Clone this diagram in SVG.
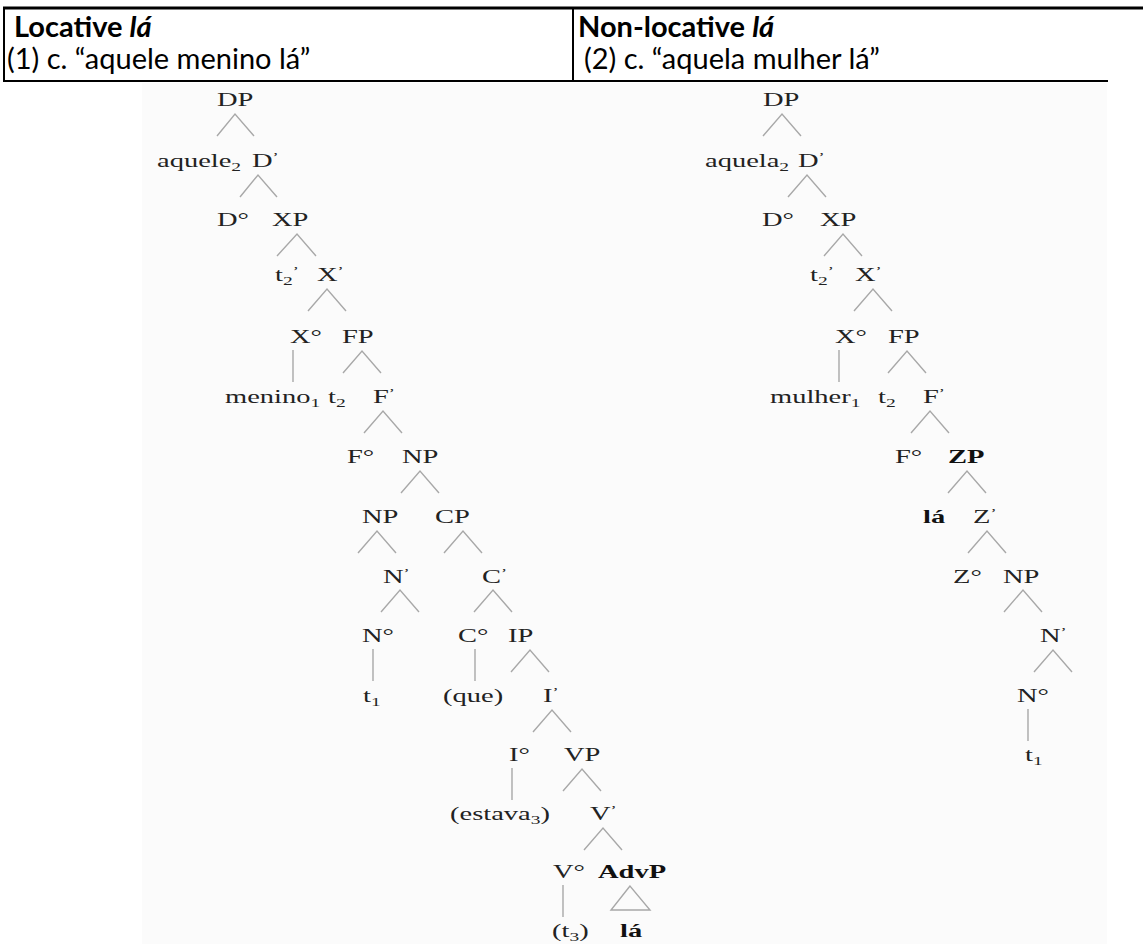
<svg xmlns="http://www.w3.org/2000/svg" width="1143" height="944" viewBox="0 0 1143 944">
<style>
.hd{font-family:Lato,"Open Sans",sans-serif;font-size:29px;fill:#000}
.b{font-weight:bold}
.t{font-family:"Liberation Serif","Times New Roman",serif;font-size:19px;fill:#222}
.sb{font-size:13px}
.pr{font-size:12px}
.bd{font-weight:bold;fill:#111}
.ln{stroke:#a8a8a8;stroke-width:1.4;fill:none}
.tb{stroke:#000;fill:none}
</style>
<rect width="1143" height="944" fill="#fff"/>
<g id="table">
<line class="tb" x1="3" y1="8" x2="1143" y2="8" stroke-width="3"/>
<line class="tb" x1="4" y1="8" x2="4" y2="82" stroke-width="2"/>
<line class="tb" x1="573" y1="8" x2="573" y2="82" stroke-width="2"/>
<line class="tb" x1="3" y1="81" x2="1108" y2="81" stroke-width="2"/>
<text class="hd b" x="14" y="37">Locative <tspan font-style="italic">lá</tspan></text>
<text class="hd" x="7" y="69">(1) c. “aquele menino lá”</text>
<text class="hd b" x="578" y="37">Non-locative <tspan font-style="italic">lá</tspan></text>
<text class="hd" x="584" y="69">(2) c. “aquela mulher lá”</text>
</g>
<rect x="142" y="83" width="965" height="861" fill="#fbfbfb"/>
<g id="connectors">
<path class="ln" d="M217,136 L235,114 L254,136 M240,197 L258,175 L277,197 M277,256 L297,234 L316,256 M308,311 L327,289 L346,311 M343,373 L362,351 L381,373 M364,433 L383,411 L402,433 M401,493 L420,471 L439,493 M358,553 L377,531 L396,553 M444,553 L463,531 L482,553 M381,612 L400,590 L419,612 M474,612 L493,590 L512,612 M511,672 L530,650 L549,672 M533,732 L552,710 L571,732 M563,791 L582,769 L601,791 M584,850 L603,828 L622,850"/>
<path class="ln" d="M293,350 V382 M373,649 V681 M475,649 V681 M512,768 V800 M563,885 V917"/>
<path class="ln" d="M630,886 L611,910 L650,910 Z"/>
<path class="ln" d="M763,136 L782,114 L801,136 M788,197 L807,175 L826,197 M824,256 L843,234 L862,256 M854,311 L873,289 L892,311 M888,373 L907,351 L926,373 M911,433 L930,411 L949,433 M948,493 L967,471 L986,493 M968,553 L987,531 L1006,553 M1004,612 L1023,590 L1042,612 M1034,672 L1053,650 L1072,672"/>
<path class="ln" d="M839,350 V382 M1028,709 V741"/>
</g>
<g id="tree-left">
<g id="l-DP"><text class="t" transform="translate(217,106) scale(1.5,1)">DP</text></g>
<g id="l-aquele"><text class="t" transform="translate(157,167) scale(1.5,1)">aquele<tspan class="sb" dy="4">2</tspan></text></g>
<g id="l-Dbar"><text class="t" transform="translate(252,167) scale(1.5,1)">D<tspan class="pr" dy="-6">’</tspan></text></g>
<g id="l-D0"><text class="t" transform="translate(217,226) scale(1.5,1)">D°</text></g>
<g id="l-XP"><text class="t" transform="translate(272,226) scale(1.5,1)">XP</text></g>
<g id="l-t2p"><text class="t" transform="translate(275,281) scale(1.5,1)">t<tspan class="sb" dy="4">2</tspan><tspan class="pr" dy="-10">’</tspan></text></g>
<g id="l-Xbar"><text class="t" transform="translate(317,281) scale(1.5,1)">X<tspan class="pr" dy="-6">’</tspan></text></g>
<g id="l-X0"><text class="t" transform="translate(290,343) scale(1.5,1)">X°</text></g>
<g id="l-FP"><text class="t" transform="translate(342,343) scale(1.5,1)">FP</text></g>
<g id="l-menino"><text class="t" transform="translate(225,403) scale(1.5,1)">menino<tspan class="sb" dy="4">1</tspan></text></g>
<g id="l-t2"><text class="t" transform="translate(328,403) scale(1.5,1)">t<tspan class="sb" dy="4">2</tspan></text></g>
<g id="l-Fbar"><text class="t" transform="translate(373,403) scale(1.5,1)">F<tspan class="pr" dy="-6">’</tspan></text></g>
<g id="l-F0"><text class="t" transform="translate(347,463) scale(1.5,1)">F°</text></g>
<g id="l-NP1"><text class="t" transform="translate(402,463) scale(1.5,1)">NP</text></g>
<g id="l-NP2"><text class="t" transform="translate(362,523) scale(1.5,1)">NP</text></g>
<g id="l-CP"><text class="t" transform="translate(435,523) scale(1.5,1)">CP</text></g>
<g id="l-Nbar"><text class="t" transform="translate(383,583) scale(1.5,1)">N<tspan class="pr" dy="-6">’</tspan></text></g>
<g id="l-Cbar"><text class="t" transform="translate(482,583) scale(1.5,1)">C<tspan class="pr" dy="-6">’</tspan></text></g>
<g id="l-N0"><text class="t" transform="translate(362,642) scale(1.5,1)">N°</text></g>
<g id="l-C0"><text class="t" transform="translate(458,642) scale(1.5,1)">C°</text></g>
<g id="l-IP"><text class="t" transform="translate(508,642) scale(1.5,1)">IP</text></g>
<g id="l-t1"><text class="t" transform="translate(363,702) scale(1.5,1)">t<tspan class="sb" dy="4">1</tspan></text></g>
<g id="l-que"><text class="t" transform="translate(443,702) scale(1.5,1)">(que)</text></g>
<g id="l-Ibar"><text class="t" transform="translate(543,702) scale(1.5,1)">I<tspan class="pr" dy="-6">’</tspan></text></g>
<g id="l-I0"><text class="t" transform="translate(509,761) scale(1.5,1)">I°</text></g>
<g id="l-VP"><text class="t" transform="translate(564,761) scale(1.5,1)">VP</text></g>
<g id="l-estava"><text class="t" transform="translate(450,820) scale(1.5,1)">(estava<tspan class="sb" dy="4">3</tspan><tspan dy="-4">)</tspan></text></g>
<g id="l-Vbar"><text class="t" transform="translate(590,820) scale(1.5,1)">V<tspan class="pr" dy="-6">’</tspan></text></g>
<g id="l-V0"><text class="t" transform="translate(553,878) scale(1.5,1)">V°</text></g>
<g id="l-AdvP"><text class="t bd" transform="translate(598,878) scale(1.5,1)">AdvP</text></g>
<g id="l-t3"><text class="t" transform="translate(552,937) scale(1.5,1)">(t<tspan class="sb" dy="4">3</tspan><tspan dy="-4">)</tspan></text></g>
<g id="l-la"><text class="t bd" transform="translate(620,937) scale(1.5,1)">lá</text></g>
</g>
<g id="tree-right">
<g id="r-DP"><text class="t" transform="translate(763,106) scale(1.5,1)">DP</text></g>
<g id="r-aquela"><text class="t" transform="translate(705,167) scale(1.5,1)">aquela<tspan class="sb" dy="4">2</tspan></text></g>
<g id="r-Dbar"><text class="t" transform="translate(798,167) scale(1.5,1)">D<tspan class="pr" dy="-6">’</tspan></text></g>
<g id="r-D0"><text class="t" transform="translate(762,226) scale(1.5,1)">D°</text></g>
<g id="r-XP"><text class="t" transform="translate(820,226) scale(1.5,1)">XP</text></g>
<g id="r-t2p"><text class="t" transform="translate(810,281) scale(1.5,1)">t<tspan class="sb" dy="4">2</tspan><tspan class="pr" dy="-10">’</tspan></text></g>
<g id="r-Xbar"><text class="t" transform="translate(855,281) scale(1.5,1)">X<tspan class="pr" dy="-6">’</tspan></text></g>
<g id="r-X0"><text class="t" transform="translate(835,343) scale(1.5,1)">X°</text></g>
<g id="r-FP"><text class="t" transform="translate(888,343) scale(1.5,1)">FP</text></g>
<g id="r-mulher"><text class="t" transform="translate(770,403) scale(1.5,1)">mulher<tspan class="sb" dy="4">1</tspan></text></g>
<g id="r-t2"><text class="t" transform="translate(878,403) scale(1.5,1)">t<tspan class="sb" dy="4">2</tspan></text></g>
<g id="r-Fbar"><text class="t" transform="translate(923,403) scale(1.5,1)">F<tspan class="pr" dy="-6">’</tspan></text></g>
<g id="r-F0"><text class="t" transform="translate(895,463) scale(1.5,1)">F°</text></g>
<g id="r-ZP"><text class="t bd" transform="translate(948,463) scale(1.5,1)">ZP</text></g>
<g id="r-la"><text class="t bd" transform="translate(923,523) scale(1.5,1)">lá</text></g>
<g id="r-Zbar"><text class="t" transform="translate(973,523) scale(1.5,1)">Z<tspan class="pr" dy="-6">’</tspan></text></g>
<g id="r-Z0"><text class="t" transform="translate(953,583) scale(1.5,1)">Z°</text></g>
<g id="r-NP"><text class="t" transform="translate(1003,583) scale(1.5,1)">NP</text></g>
<g id="r-Nbar"><text class="t" transform="translate(1040,642) scale(1.5,1)">N<tspan class="pr" dy="-6">’</tspan></text></g>
<g id="r-N0"><text class="t" transform="translate(1017,702) scale(1.5,1)">N°</text></g>
<g id="r-t1"><text class="t" transform="translate(1025,761) scale(1.5,1)">t<tspan class="sb" dy="4">1</tspan></text></g>
</g>
</svg>
